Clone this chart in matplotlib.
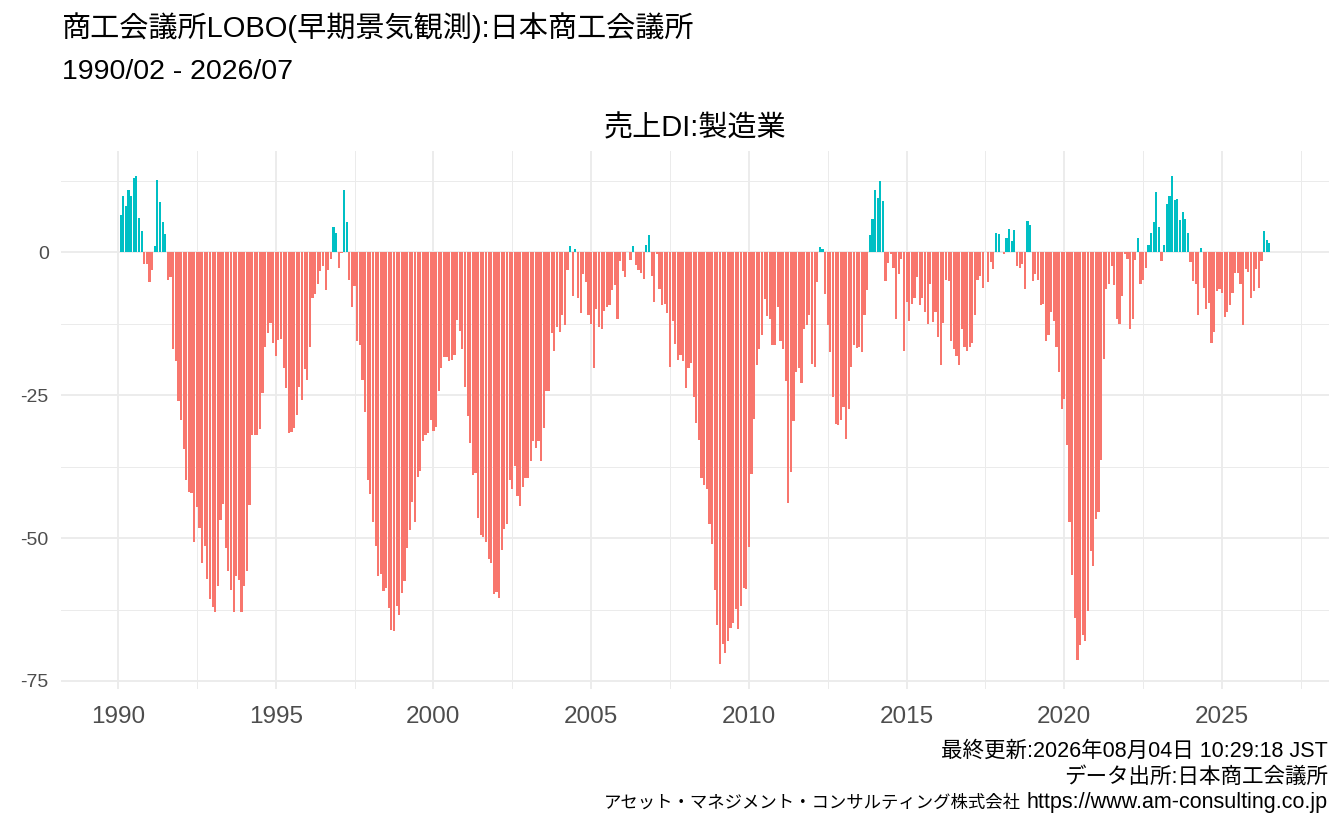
import pandas as pd
import matplotlib
matplotlib.use("Agg")
import matplotlib.pyplot as plt
from matplotlib.ticker import MultipleLocator

# Latin glyphs from Liberation Sans, Japanese falls through to Noto CJK
plt.rcParams["font.family"] = ["Liberation Sans", "Noto Sans CJK JP"]

TITLE = "商工会議所LOBO(早期景気観測):日本商工会議所"
SUBTITLE = "1990/02 - 2026/07"
PANEL = "売上DI:製造業"
CAPTION_UPDATED = "最終更新:2026年08月04日 10:29:18 JST"
CAPTION_SOURCE = "データ出所:日本商工会議所"
CAPTION_COMPANY = "アセット・マネジメント・コンサルティング株式会社"
CAPTION_URL = "https://www.am-consulting.co.jp"
START = "1990-02-01"

# 売上DI (製造業), monthly
di_1990s = [
    6.5, 9.8, 8.0, 10.8, 9.8, 12.9, 13.4, 5.9, 3.7, -2.0, -2.0,
    -5.3, -3.1, 1.0, 12.7, 8.7, 5.2, 3.1, -4.9, -4.3, -16.9, -19.0, -26.0,
    -29.4, -34.5, -39.9, -41.9, -42.2, -50.7, -44.6, -48.3, -54.4, -51.4, -57.2, -60.6,
    -62.0, -62.9, -58.4, -46.9, -44.1, -51.7, -55.8, -59.1, -62.9, -56.6, -57.3, -62.9,
    -58.3, -55.8, -44.2, -31.9, -32.0, -31.9, -31.0, -24.7, -16.5, -14.2, -12.3, -15.8,
    -18.1, -15.3, -15.1, -20.3, -23.7, -31.7, -31.5, -30.8, -28.4, -23.5, -25.8, -20.5,
    -22.3, -16.5, -8.0, -7.3, -5.5, -3.3, -2.4, -6.6, -3.1, -1.2, 4.4, 3.3,
    -2.7, -0.1, 10.8, 5.2, -4.8, -9.5, -5.9, -15.5, -16.2, -22.3, -28.0, -39.9,
    -42.3, -47.2, -51.4, -56.6, -56.3, -59.2, -58.7, -62.2, -66.0, -66.2, -61.9, -63.4,
    -59.6, -57.5, -51.7, -48.6, -43.7, -47.2, -39.4, -38.3, -33.1, -32.0, -31.7, -29.4,
]
di_2000s = [
    -31.3, -30.6, -24.2, -20.3, -18.3, -18.4, -19.1, -18.8, -17.9, -11.8, -13.7, -16.9,
    -23.5, -28.7, -33.3, -39.0, -38.7, -46.5, -49.5, -49.8, -50.7, -53.7, -54.4, -59.8,
    -59.4, -60.5, -52.1, -48.4, -47.6, -39.9, -41.5, -37.4, -42.7, -44.4, -41.1, -39.5,
    -39.5, -36.6, -33.1, -34.3, -33.1, -36.6, -30.8, -24.2, -24.2, -14.1, -17.2, -13.0,
    -13.9, -10.9, -12.7, -3.1, 1.0, -7.6, 0.5, -8.0, -10.6, -3.8, -5.2, -10.9,
    -12.5, -20.2, -9.9, -13.0, -13.5, -10.2, -9.5, -9.2, -6.6, -5.7, -11.6, -1.5,
    -3.3, -4.3, 0.0, -1.3, 1.0, -2.2, -3.1, -3.6, -4.7, 1.2, 3.0, -4.1,
    -8.7, -0.3, -6.4, -9.2, -9.0, -10.6, -20.0, -12.0, -16.0, -18.8, -17.9, -19.0,
    -23.8, -20.2, -19.3, -25.4, -29.8, -32.9, -39.5, -40.8, -41.5, -47.6, -51.0, -59.1,
    -65.2, -72.1, -68.5, -70.1, -68.0, -65.7, -64.8, -62.4, -65.9, -61.9, -58.7, -58.9,
]
di_2010s = [
    -51.6, -38.8, -29.2, -19.8, -16.9, -14.4, -8.1, -11.1, -11.6, -16.2, -16.2, -9.5,
    -15.6, -16.9, -22.6, -43.9, -38.5, -29.6, -20.9, -20.3, -22.8, -13.5, -12.8, -10.9,
    -19.5, -20.0, -5.3, 0.9, 0.5, -7.3, -12.8, -17.4, -25.4, -30.1, -30.3, -29.4,
    -27.0, -32.7, -27.5, -20.0, -16.2, -16.7, -16.5, -17.4, -10.9, -6.6, 3.0, 5.8,
    10.8, 9.4, 12.4, 8.9, -5.0, -1.9, -0.3, -2.7, -11.6, -3.8, -1.2, -17.2,
    -8.7, -12.0, -9.0, -8.0, -4.3, -9.2, -8.0, -10.4, -12.5, -5.5, -12.2, -10.4,
    -14.8, -19.7, -12.3, -4.8, -5.0, -15.6, -16.9, -18.1, -19.7, -13.5, -16.5, -17.2,
    -16.5, -15.8, -10.9, -4.8, -4.1, -6.2, 0.0, -5.3, -1.7, -2.9, 3.3, 3.1,
    0.0, -0.3, 2.4, 4.0, 1.9, 3.8, -2.4, -2.7, -2.0, -6.4, 5.4, 4.7,
    -5.0, -3.8, -4.8, -9.2, -9.0, -15.6, -14.4, -10.4, -12.0, -16.5, -21.0, -27.5,
]
di_2020s = [
    -25.6, -33.8, -47.2, -56.5, -64.0, -71.3, -68.7, -66.9, -68.0, -62.7, -52.3, -54.9,
    -46.7, -45.5, -36.4, -18.6, -6.4, -5.5, -2.4, -5.7, -11.6, -12.5, -7.6, -0.3,
    -1.2, -13.4, -11.6, -1.3, 2.4, -5.5, -4.8, -2.7, 1.2, 3.3, 5.2, 10.5,
    4.4, -1.6, 1.2, 8.5, 9.9, 13.3, 9.1, 9.3, 5.7, 7.0, 5.8, 3.4,
    -1.8, -5.1, -5.5, -10.9, 0.8, -6.3, -10.0, -8.8, -15.8, -14.0, -6.7, -6.5,
    -7.2, -11.4, -10.5, -9.3, -7.2, -3.7, -3.7, -5.6, -12.8, -2.9, -3.5, -8.0,
    -6.7, -2.9, -6.2, -1.5, 3.7, 2.2, 1.6,
]

POS_COLOR = "#00BFC4"
NEG_COLOR = "#F8766D"
GRID = "#EBEBEB"


def main() -> None:
    values = di_1990s + di_2000s + di_2010s + di_2020s
    dates = pd.date_range(START, periods=len(values), freq="MS")
    df = pd.DataFrame({"date": dates, "value": values})
    df["x"] = df["date"].dt.year + (df["date"].dt.month - 1) / 12
    colors = [POS_COLOR if v >= 0 else NEG_COLOR for v in df["value"]]

    W, H = 1344, 830
    fig = plt.figure(figsize=(W / 100, H / 100), dpi=100)
    ax = fig.add_axes([61.2 / W, (H - 689) / H, (1329.3 - 61.2) / W, 538 / H])

    ax.bar(df["x"], df["value"], width=0.069, color=colors, linewidth=0, zorder=2)

    ax.set_xlim(1988.2, 2028.4)
    ax.set_ylim(-76.4, 17.7)
    ax.xaxis.set_major_locator(MultipleLocator(5))
    ax.xaxis.set_minor_locator(MultipleLocator(2.5))
    ax.yaxis.set_major_locator(MultipleLocator(25))
    ax.yaxis.set_minor_locator(MultipleLocator(12.5))
    ax.xaxis.set_major_formatter(lambda v, p: f"{int(v)}")
    ax.yaxis.set_major_formatter(lambda v, p: f"{int(v)}")
    ax.grid(True, which="major", color=GRID, linewidth=1.3, zorder=0)
    ax.grid(True, which="minor", color=GRID, linewidth=0.7, zorder=0)
    ax.set_axisbelow(True)
    for s in ax.spines.values():
        s.set_visible(False)
    ax.tick_params(which="both", length=0)
    ax.tick_params(axis="x", labelsize=17.5, labelcolor="#4D4D4D", pad=12)
    ax.tick_params(axis="y", labelsize=14, labelcolor="#4D4D4D", pad=9)

    fig.text(62 / W, 1 - 28 / H, TITLE, fontsize=21, ha="left", va="center")
    fig.text(62 / W, 1 - 72 / H, SUBTITLE, fontsize=20.5, ha="left", va="center")
    fig.text(695 / W, 1 - 128 / H, PANEL, fontsize=21, ha="center", va="center")

    right = 1328 / W
    fig.text(right, 1 - 751 / H, CAPTION_UPDATED, fontsize=15.5, ha="right", va="center")
    fig.text(right, 1 - 777 / H, CAPTION_SOURCE, fontsize=15.5, ha="right", va="center")
    url = fig.text(right, 1 - 802 / H, CAPTION_URL, fontsize=15.5, ha="right", va="center")
    # company name sits just left of the url, in a tighter size like the original
    fig.canvas.draw()
    bb = url.get_window_extent()
    fig.text((bb.x0 - 6) / W, 1 - 802 / H, CAPTION_COMPANY, fontsize=12.5,
             ha="right", va="center")

    fig.savefig("out.png", dpi=100, facecolor="white")
    plt.close(fig)


if __name__ == "__main__":
    main()
